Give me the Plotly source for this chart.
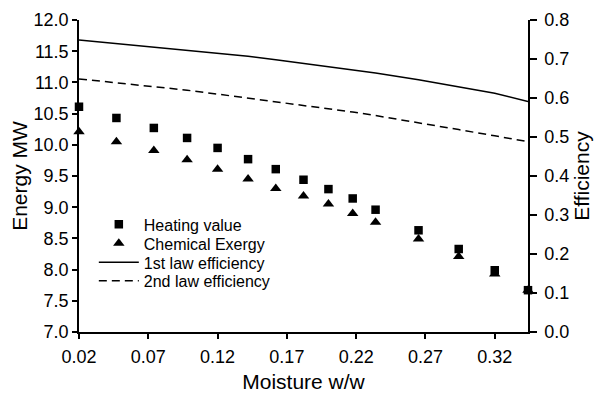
import plotly.graph_objects as go

moisture = [0.02, 0.047, 0.074, 0.098, 0.12, 0.142, 0.162, 0.182, 0.200, 0.2175, 0.234, 0.265, 0.294, 0.320, 0.344]
heating_value = [10.61, 10.43, 10.27, 10.11, 9.95, 9.77, 9.61, 9.44, 9.29, 9.14, 8.96, 8.63, 8.33, 7.99, 7.67]
chemical_exergy = [10.21, 10.05, 9.91, 9.76, 9.61, 9.45, 9.30, 9.18, 9.05, 8.90, 8.76, 8.49, 8.21, 7.93, 7.67]
eff_1st = [0.749, 0.740, 0.731, 0.723, 0.715, 0.707, 0.698, 0.689, 0.681, 0.672, 0.664, 0.647, 0.629, 0.612, 0.591]
eff_2nd = [0.649, 0.639, 0.630, 0.620, 0.610, 0.600, 0.591, 0.582, 0.572, 0.564, 0.555, 0.537, 0.519, 0.503, 0.488]

x_ticks = [0.02, 0.07, 0.12, 0.17, 0.22, 0.27, 0.32]
x_ticktext = ["0.02", "0.07", "0.12", "0.17", "0.22", "0.27", "0.32"]

FONT = "Liberation Sans, Arial, sans-serif"

fig = go.Figure()
fig.add_trace(go.Scatter(x=moisture, y=heating_value, mode="markers", name="Heating value",
                         marker=dict(symbol="square", size=8.5, color="black"), cliponaxis=False,
                         legend="legend"))
fig.add_trace(go.Scatter(x=moisture, y=chemical_exergy, mode="markers", name="Chemical Exergy",
                         marker=dict(symbol="triangle-up", size=10, color="black"), cliponaxis=False,
                         legend="legend2"))
fig.add_trace(go.Scatter(x=moisture, y=eff_1st, mode="lines", name="1st law efficiency", yaxis="y2",
                         line=dict(color="black", width=1.5), legend="legend3"))
fig.add_trace(go.Scatter(x=moisture, y=eff_2nd, mode="lines", name="2nd law efficiency", yaxis="y2",
                         line=dict(color="black", width=1.5, dash="8px,5px"), legend="legend4"))

def axis_common(ticklen):
    return dict(showline=True, linecolor="black", linewidth=1.5, ticks="outside", ticklen=ticklen,
                tickcolor="black", tickwidth=1.5, showgrid=False, zeroline=False, automargin=False,
                tickfont=dict(family=FONT, size=18, color="black"))

TITLE_FONT = dict(family=FONT, size=21, color="black")

def legend_at(y):
    return dict(x=0.033, y=y, xanchor="left", yanchor="middle", bgcolor="rgba(0,0,0,0)",
                font=dict(family=FONT, size=16, color="black"), itemwidth=40)

fig.update_layout(
    width=594, height=393,
    margin=dict(l=79, r=66, t=20, b=61),
    paper_bgcolor="white", plot_bgcolor="white",
    font=dict(family=FONT, color="black"),
    showlegend=True,
    legend=legend_at(0.345),
    legend2=legend_at(0.284),
    legend3=legend_at(0.223),
    legend4=legend_at(0.164),
    xaxis=dict(range=[0.02, 0.344], tickvals=x_ticks, ticktext=x_ticktext,
               title=dict(text="Moisture w/w", font=TITLE_FONT, standoff=14),
               ticklabelstandoff=3,
               **axis_common(5)),
    yaxis=dict(range=[7.0, 12.0], dtick=0.5, tick0=7.0, tickformat=".1f",
               title=dict(text="Energy MW", font=TITLE_FONT, standoff=0),
               ticklabelstandoff=0,
               **axis_common(5)),
    yaxis2=dict(range=[0.0, 0.8], dtick=0.1, tick0=0.0, tickformat=".1f", overlaying="y", side="right",
                title=dict(text="Efficiency", font=TITLE_FONT, standoff=6),
                ticklabelstandoff=4,
                **axis_common(7)),
)

fig.write_html("out.html", config={"displayModeBar": False},
               post_script="document.body.style.margin='0px';")
